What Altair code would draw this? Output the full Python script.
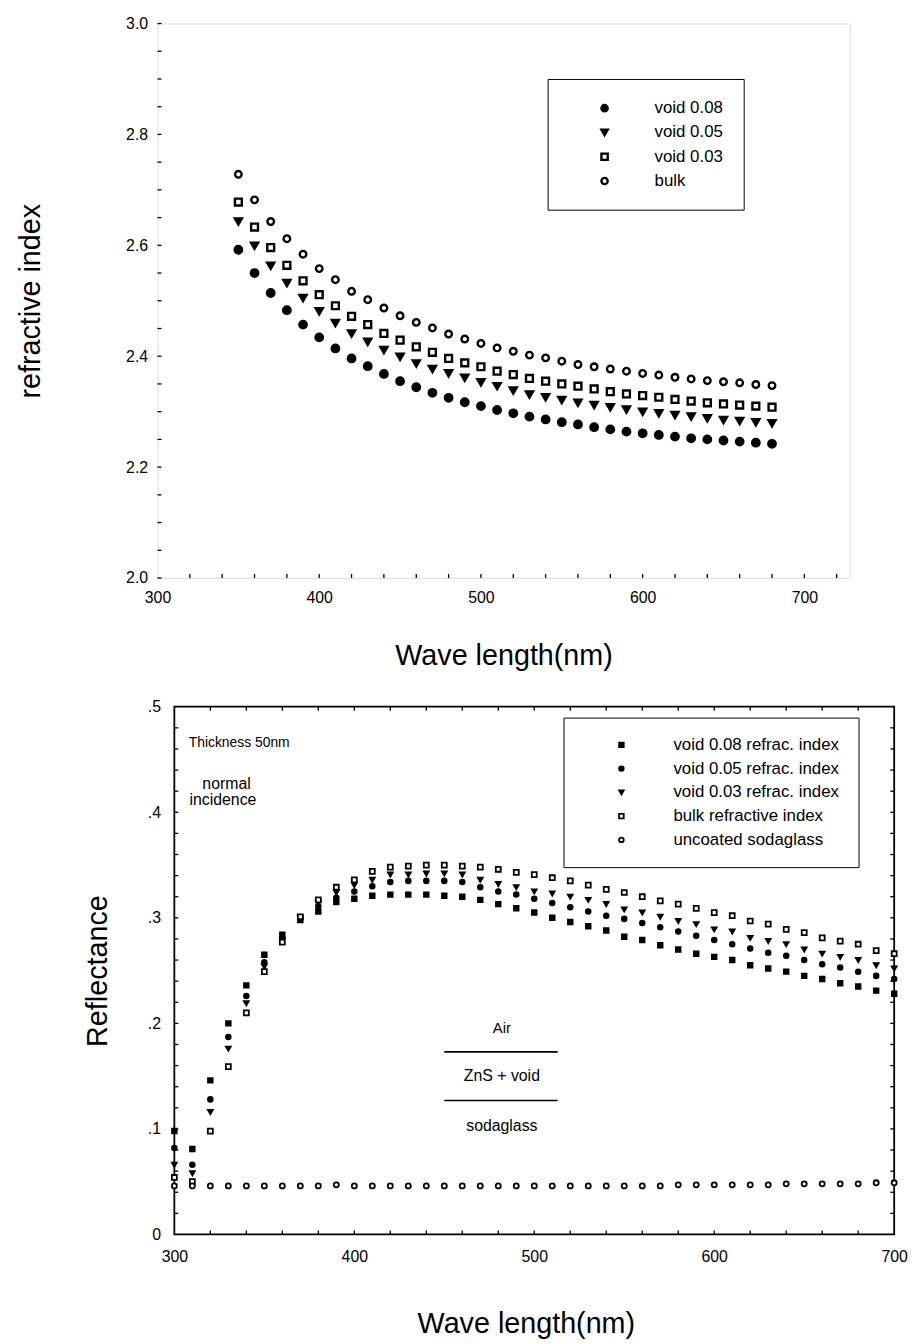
import altair as alt
import pandas as pd

FONT = "Liberation Sans"

# ---------------- top panel: refractive index ----------------
wl_top = list(range(350, 690, 10))
top_series = ["void 0.08", "void 0.05", "void 0.03", "bulk"]
n_void08 = [2.592, 2.550, 2.514, 2.483, 2.457, 2.434, 2.414, 2.396, 2.382, 2.368, 2.355, 2.344,
            2.334, 2.325, 2.317, 2.310, 2.303, 2.297, 2.291, 2.286, 2.281, 2.277, 2.272, 2.268,
            2.264, 2.261, 2.258, 2.255, 2.252, 2.250, 2.248, 2.246, 2.244, 2.242]
n_void05 = [2.643, 2.599, 2.563, 2.532, 2.505, 2.481, 2.460, 2.441, 2.426, 2.411, 2.399, 2.387,
            2.377, 2.369, 2.361, 2.353, 2.346, 2.338, 2.331, 2.326, 2.321, 2.316, 2.312, 2.308,
            2.304, 2.300, 2.297, 2.294, 2.291, 2.288, 2.285, 2.283, 2.281, 2.279]
n_void03 = [2.678, 2.633, 2.596, 2.564, 2.536, 2.511, 2.491, 2.472, 2.457, 2.441, 2.429, 2.417,
            2.407, 2.396, 2.388, 2.381, 2.373, 2.367, 2.360, 2.355, 2.350, 2.346, 2.341, 2.336,
            2.332, 2.329, 2.326, 2.322, 2.319, 2.316, 2.314, 2.312, 2.310, 2.308]
n_bulk = [2.728, 2.682, 2.643, 2.612, 2.584, 2.558, 2.538, 2.517, 2.502, 2.487, 2.473, 2.461,
          2.451, 2.440, 2.431, 2.423, 2.415, 2.409, 2.402, 2.397, 2.391, 2.385, 2.381, 2.377,
          2.373, 2.369, 2.366, 2.362, 2.359, 2.356, 2.354, 2.352, 2.349, 2.347]
top_x_labels = [300, 400, 500, 600, 700]
top_y_labels = [2.0, 2.2, 2.4, 2.6, 2.8, 3.0]
top_x_minor = list(range(320, 728, 20))
top_y_minor = [2.05, 2.1, 2.15, 2.25, 2.3, 2.35, 2.45, 2.5, 2.55, 2.65, 2.7, 2.75, 2.85, 2.9, 2.95]

# ---------------- bottom panel: reflectance ----------------
wl_bot = list(range(300, 710, 10))
bot_series = ["void 0.08 refrac. index", "void 0.05 refrac. index", "void 0.03 refrac. index",
              "bulk refractive index", "uncoated sodaglass"]
r_void08 = [0.098, 0.081, 0.146, 0.200, 0.236, 0.265, 0.284, 0.298, 0.306, 0.315,
            0.318, 0.321, 0.322, 0.322, 0.322, 0.321, 0.320, 0.317, 0.313, 0.309,
            0.305, 0.300, 0.296, 0.292, 0.288, 0.282, 0.279, 0.274, 0.270, 0.266,
            0.263, 0.260, 0.255, 0.252, 0.249, 0.245, 0.242, 0.238, 0.235, 0.231, 0.228]
r_void05 = [0.082, 0.066, 0.128, 0.187, 0.226, 0.258, 0.281, 0.299, 0.311, 0.319,
            0.325, 0.330, 0.334, 0.335, 0.335, 0.335, 0.334, 0.329, 0.325, 0.322,
            0.318, 0.314, 0.310, 0.306, 0.302, 0.299, 0.295, 0.291, 0.287, 0.283,
            0.279, 0.275, 0.271, 0.267, 0.264, 0.260, 0.256, 0.253, 0.249, 0.245, 0.242]
r_void03 = [0.066, 0.058, 0.116, 0.176, 0.219, 0.254, 0.279, 0.300, 0.314, 0.324,
            0.331, 0.336, 0.341, 0.341, 0.342, 0.342, 0.341, 0.336, 0.332, 0.329,
            0.325, 0.323, 0.320, 0.317, 0.313, 0.308, 0.305, 0.301, 0.297, 0.294,
            0.289, 0.287, 0.281, 0.278, 0.275, 0.270, 0.266, 0.263, 0.260, 0.255, 0.252]
r_bulk = [0.054, 0.050, 0.098, 0.159, 0.210, 0.249, 0.277, 0.301, 0.317, 0.329,
          0.336, 0.344, 0.348, 0.349, 0.350, 0.350, 0.349, 0.348, 0.346, 0.343,
          0.341, 0.338, 0.335, 0.331, 0.327, 0.324, 0.320, 0.316, 0.313, 0.309,
          0.305, 0.302, 0.297, 0.294, 0.289, 0.286, 0.281, 0.278, 0.275, 0.269, 0.266]
r_uncoated = [0.046, 0.046, 0.046, 0.046, 0.046, 0.046, 0.046, 0.046, 0.046, 0.047,
              0.046, 0.046, 0.046, 0.046, 0.046, 0.046, 0.046, 0.046, 0.046, 0.046,
              0.046, 0.046, 0.046, 0.046, 0.046, 0.046, 0.046, 0.046, 0.047, 0.047,
              0.047, 0.047, 0.047, 0.047, 0.048, 0.048, 0.048, 0.048, 0.048, 0.049, 0.049]
bot_x_labels = [300, 400, 500, 600, 700]
bot_y_labels = [0.0, 0.1, 0.2, 0.3, 0.4, 0.5]
bot_x_minor = list(range(320, 700, 20))
bot_y_minor = [round(0.02 * i, 2) for i in range(1, 25)]

ann_text = ["Thickness 50nm", "normal", "incidence", "Air", "ZnS + void", "sodaglass"]
ann_x = [308, 329, 327, 482, 482, 482]
ann_y = [0.466, 0.427, 0.412, 0.196, 0.150, 0.103]
ann_size = [14, 16, 16, 15, 16, 16]
ann_align = ["left", "center", "center", "center", "center", "center"]
layer_lines_x1 = [450, 450]
layer_lines_x2 = [513, 513]
layer_lines_y = [0.173, 0.127]

# ---------------- frames / layout (pixels) ----------------
TW, TH = 699, 560          # top plot area
BW, BH = 744, 533          # bottom plot area (frame inset INSET px from left)
INSET = 17

df_top = pd.concat([
    pd.DataFrame({"wl": wl_top, "n": vals, "sample": s})
    for s, vals in zip(top_series, [n_void08, n_void05, n_void03, n_bulk])
])
df_bot = pd.concat([
    pd.DataFrame({"wl": wl_bot, "r": vals, "curve": s})
    for s, vals in zip(bot_series, [r_void08, r_void05, r_void03, r_bulk, r_uncoated])
])

xs_top = alt.Scale(domain=[300, 728], nice=False, zero=False)
ys_top = alt.Scale(domain=[2.0, 3.0], nice=False, zero=False)
bot_lo = 300 - INSET * 400 / (BW - INSET)
xs_bot = alt.Scale(domain=[bot_lo, 700], nice=False, zero=False)
ys_bot = alt.Scale(domain=[0, 0.5], nice=False, zero=False)

XT = "Wave length(nm)"


def xaxis(values, lp, tp):
    return alt.Axis(values=values, ticks=False, domain=False, grid=False, labelFlush=False,
                    labelFont=FONT, labelFontSize=16, labelColor="black", labelPadding=lp,
                    titleFont=FONT, titleFontSize=29, titleFontWeight="normal", titleColor="black",
                    titlePadding=tp)


def yaxis(values, lp, tp, fmt=None, expr=None, offset=0):
    kw = {}
    if fmt:
        kw["format"] = fmt
    if expr:
        kw["labelExpr"] = expr
    return alt.Axis(values=values, ticks=False, domain=False, grid=False, labelFlush=False,
                    labelFont=FONT, labelFontSize=16, labelColor="black", labelPadding=lp,
                    titleFont=FONT, titleFontSize=29, titleFontWeight="normal", titleColor="black",
                    titlePadding=tp, offset=offset, **kw)


def legend(x, y, fs, pad, soff, loff, rp, ssize, sw):
    return alt.Legend(title=None, orient="none", legendX=x, legendY=y, strokeColor="black",
                      fillColor="white", padding=pad, labelFont=FONT, labelFontSize=fs,
                      labelColor="black", labelLimit=500, symbolOffset=soff, labelOffset=loff,
                      rowPadding=rp, symbolSize=ssize, symbolStrokeColor="black", symbolStrokeWidth=sw)


def point_layer(df, field, series, yfield, xs, ys, xax, yax, ytitle, shapes, fills, sizes, sw, leg):
    return alt.Chart(df).mark_point(opacity=1, strokeWidth=sw).encode(
        x=alt.X("wl:Q", scale=xs, title=XT, axis=xax),
        y=alt.Y(yfield + ":Q", scale=ys, title=ytitle, axis=yax),
        shape=alt.Shape(field + ":N", sort=series, scale=alt.Scale(domain=series, range=shapes), legend=leg),
        fill=alt.Fill(field + ":N", sort=series, scale=alt.Scale(domain=series, range=fills), legend=leg),
        stroke=alt.Stroke(field + ":N", sort=series,
                          scale=alt.Scale(domain=series, range=["black"] * len(series)), legend=leg),
        size=alt.Size(field + ":O", sort=series, scale=alt.Scale(domain=series, range=sizes), legend=None),
    )


def pad_rule(px):
    return alt.Chart(pd.DataFrame({"a": [0]})).mark_rule(color="white", strokeWidth=1).encode(
        x=alt.value(px), y=alt.value(200), y2=alt.value(202))


# ---------------- top chart ----------------
leg_top = legend(394, 56, 17, 21, 28, 42, 6.5, 40, 2.4)
top_pts = point_layer(df_top, "sample", top_series, "n", xs_top, ys_top,
                      xaxis(top_x_labels, 12, 36), yaxis(top_y_labels, 10, 81, fmt=".1f"),
                      "refractive index",
                      ["circle", "triangle-down", "square", "circle"],
                      ["black", "black", "white", "white"],
                      [56, 44, 34, 44], 2.4, leg_top)

top_tx = alt.Chart(pd.DataFrame({"t": top_x_minor})).mark_rule(color="black", strokeWidth=1.3).encode(
    x=alt.X("t:Q", scale=xs_top, title=XT), y=alt.value(TH), y2=alt.value(TH - 4))
top_ty = alt.Chart(pd.DataFrame({"t": top_y_minor + top_y_labels})).mark_rule(color="black", strokeWidth=1.3).encode(
    y=alt.Y("t:Q", scale=ys_top, title="refractive index"), x=alt.value(0), x2=alt.value(4))

top = alt.layer(top_tx, top_ty, pad_rule(-150), top_pts).properties(
    width=TW, height=TH).resolve_scale(size="independent")

# ---------------- bottom chart ----------------
leg_bot = legend(410, 11, 17, 19, 31, 44, 6, 22, 1.8)
bot_pts = point_layer(df_bot, "curve", bot_series, "r", xs_bot, ys_bot,
                      xaxis(bot_x_labels, 14, 46),
                      yaxis(bot_y_labels, 14, 35,
                            expr="datum.value == 0 ? '0' : replace(format(datum.value, '.1f'), '0.', '.')",
                            offset=-INSET),
                      "Reflectance",
                      ["square", "circle", "triangle-down", "square", "circle"],
                      ["black", "black", "black", "white", "white"],
                      [22, 26, 22, 20, 22], 1.8, leg_bot)

frame_bot = alt.Chart(pd.DataFrame({"a": [0]})).mark_rect(
    fillOpacity=0, stroke="black", strokeWidth=1.8).encode(
    x=alt.value(INSET), x2=alt.value(BW), y=alt.value(0), y2=alt.value(BH))
bot_tx_b = alt.Chart(pd.DataFrame({"t": bot_x_minor})).mark_rule(color="black", strokeWidth=1.3).encode(
    x=alt.X("t:Q", scale=xs_bot, title=XT), y=alt.value(BH), y2=alt.value(BH - 4))
bot_tx_t = alt.Chart(pd.DataFrame({"t": bot_x_minor})).mark_rule(color="black", strokeWidth=1.3).encode(
    x=alt.X("t:Q", scale=xs_bot, title=XT), y=alt.value(0), y2=alt.value(4))
bot_ty_l = alt.Chart(pd.DataFrame({"t": bot_y_minor})).mark_rule(color="black", strokeWidth=1.3).encode(
    y=alt.Y("t:Q", scale=ys_bot, title="Reflectance"), x=alt.value(INSET), x2=alt.value(INSET + 4))
bot_ty_r = alt.Chart(pd.DataFrame({"t": bot_y_minor})).mark_rule(color="black", strokeWidth=1.3).encode(
    y=alt.Y("t:Q", scale=ys_bot, title="Reflectance"), x=alt.value(BW), x2=alt.value(BW - 4))

df_ann = pd.DataFrame({"x": ann_x, "y": ann_y, "text": ann_text, "size": ann_size, "align": ann_align})
ann_left = alt.Chart(df_ann[df_ann["align"] == "left"]).mark_text(
    align="left", baseline="middle", font=FONT, color="black", fontSize=14).encode(
    x=alt.X("x:Q", scale=xs_bot, title=XT), y=alt.Y("y:Q", scale=ys_bot, title="Reflectance"), text="text:N")
ann_c = alt.Chart(df_ann[df_ann["align"] == "center"]).mark_text(
    align="center", baseline="middle", font=FONT, color="black").encode(
    x=alt.X("x:Q", scale=xs_bot, title=XT), y=alt.Y("y:Q", scale=ys_bot, title="Reflectance"), text="text:N",
    size=alt.Size("size:Q", scale=None, legend=None))
df_lines = pd.DataFrame({"x1": layer_lines_x1, "x2": layer_lines_x2, "y": layer_lines_y})
ann_lines = alt.Chart(df_lines).mark_rule(color="black", strokeWidth=1.6).encode(
    x=alt.X("x1:Q", scale=xs_bot, title=XT), x2="x2:Q", y=alt.Y("y:Q", scale=ys_bot, title="Reflectance"))

bottom = alt.layer(frame_bot, bot_tx_b, bot_tx_t, bot_ty_l, bot_ty_r, pad_rule(-150), ann_lines,
                   ann_left, ann_c, bot_pts).properties(
    width=BW, height=BH, view=alt.ViewBackground(stroke="transparent")
).resolve_scale(size="independent")

chart = alt.vconcat(top, bottom, spacing=27).resolve_scale(
    shape="independent", fill="independent", stroke="independent", size="independent"
).resolve_legend(shape="independent", fill="independent", stroke="independent").properties(
    padding={"left": 0, "top": 0, "right": 5, "bottom": 5}
).configure_view(stroke="black", strokeWidth=1.8).configure(font=FONT, background="white")

chart.save("out.html", embed_options={"renderer": "svg", "actions": False})
